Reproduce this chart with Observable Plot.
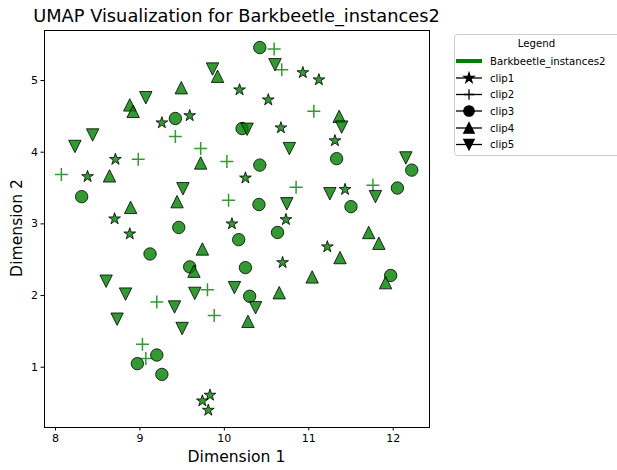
<!DOCTYPE html>
<html><head><meta charset="utf-8">
<script src="https://cdn.jsdelivr.net/npm/d3@7"></script>
<script src="https://cdn.jsdelivr.net/npm/@observablehq/plot@0.6"></script>
<style>
body{margin:0;background:#fff;font-family:"DejaVu Sans",sans-serif;}
#wrap{position:relative;width:617px;height:470px;}
</style></head><body><div id="wrap"></div>
<script>
const titleText = "UMAP Visualization for Barkbeetle_instances2";
const xLabel = "Dimension 1";
const yLabel = "Dimension 2";
const xTicks = [8, 9, 10, 11, 12];
const yTicks = [1, 2, 3, 4, 5];
const seriesName = "Barkbeetle_instances2";
const clipNames = ["clip1", "clip2", "clip3", "clip4", "clip5"];

const clip1X = [9.26, 8.71, 8.38, 8.70, 9.59, 10.18, 10.52, 10.67, 10.25, 10.09, 10.73, 10.93, 11.12, 11.31, 11.43, 8.88, 10.69, 9.83, 9.74, 9.81, 11.22];
const clip1Y = [4.41, 3.90, 3.66, 3.07, 4.51, 4.87, 4.73, 4.34, 3.64, 3.00, 3.06, 5.11, 5.01, 4.16, 3.48, 2.86, 2.46, 0.61, 0.53, 0.40, 2.68];

const clip2X = [8.07, 8.98, 9.42, 10.59, 10.68, 9.72, 10.03, 10.85, 10.05, 11.06, 11.76, 9.20, 9.03, 9.07, 9.80, 9.88];
const clip2Y = [3.69, 3.90, 4.22, 5.44, 5.15, 4.05, 3.87, 3.51, 3.33, 4.57, 3.54, 1.91, 1.32, 1.12, 2.08, 1.72];

const clip3X = [8.31, 9.42, 10.42, 10.21, 10.42, 10.41, 9.46, 10.63, 11.33, 12.22, 12.05, 11.50, 9.12, 9.20, 8.97, 9.26, 10.17, 9.59, 10.25, 10.30, 11.97];
const clip3Y = [3.38, 4.47, 5.46, 4.33, 3.82, 3.27, 2.95, 2.88, 3.91, 3.75, 3.50, 3.24, 2.58, 1.17, 1.05, 0.90, 2.78, 2.40, 2.39, 1.99, 2.28];

const clip4X = [8.88, 8.92, 8.64, 8.89, 9.49, 9.92, 9.72, 9.44, 11.36, 11.71, 9.74, 9.64, 10.65, 10.28, 11.83, 11.37, 11.04, 11.91];
const clip4Y = [4.66, 4.57, 3.67, 3.23, 4.90, 5.06, 3.85, 3.31, 4.50, 2.88, 2.65, 2.34, 2.04, 1.64, 2.73, 2.53, 2.26, 2.18];

const clip5X = [9.07, 8.44, 8.23, 9.86, 10.60, 10.27, 10.77, 9.51, 10.74, 11.39, 12.15, 11.25, 11.79, 8.60, 8.83, 8.73, 9.41, 9.65, 10.12, 10.37, 9.50];
const clip5Y = [4.76, 4.24, 4.08, 5.16, 5.22, 4.32, 4.05, 3.49, 3.28, 4.35, 3.92, 3.42, 3.38, 2.20, 2.02, 1.67, 1.84, 2.03, 2.11, 1.83, 1.54];

const rows = (xs, ys) => xs.map((x, i) => ({x, y: ys[i]}));

// matplotlib-like marker shapes
const rad = (size) => Math.sqrt(size / Math.PI);
const starSym = {draw(ctx, size) {
  const R = rad(size);
  for (let k = 0; k < 10; k++) {
    const r = k % 2 ? R * 0.381966 : R;
    const a = -Math.PI / 2 + k * Math.PI / 5;
    const px = r * Math.cos(a), py = r * Math.sin(a);
    k ? ctx.lineTo(px, py) : ctx.moveTo(px, py);
  }
  ctx.closePath();
}};
const plusSym = {draw(ctx, size) {
  const R = rad(size);
  ctx.moveTo(-R, 0); ctx.lineTo(R, 0);
  ctx.moveTo(0, -R); ctx.lineTo(0, R);
}};
const circleSym = {draw(ctx, size) {
  const R = rad(size);
  ctx.moveTo(R, 0); ctx.arc(0, 0, R, 0, 2 * Math.PI); ctx.closePath();
}};
const triUpSym = {draw(ctx, size) {
  const R = rad(size);
  ctx.moveTo(0, -R); ctx.lineTo(R, R); ctx.lineTo(-R, R); ctx.closePath();
}};
const triDownSym = {draw(ctx, size) {
  const R = rad(size);
  ctx.moveTo(0, R); ctx.lineTo(R, -R); ctx.lineTo(-R, -R); ctx.closePath();
}};
const symbols = [starSym, plusSym, circleSym, triUpSym, triDownSym];

const filled = {r: 6.2, fill: "green", fillOpacity: 0.8, stroke: "black", strokeOpacity: 0.8, strokeWidth: 1};

const chart = Plot.plot({
  width: 617, height: 470,
  marginLeft: 44, marginRight: 188, marginTop: 30, marginBottom: 43,
  x: {domain: [7.87, 12.43]},
  y: {domain: [0.159, 5.698]},
  style: {fontFamily: "DejaVu Sans", fontSize: "11px", color: "black", background: "white", overflow: "visible"},
  marks: [
    Plot.axisX({ticks: xTicks, tickFormat: d3.format("d"), tickSize: 3.5, tickPadding: 3, label: null, stroke: "black"}),
    Plot.axisY({ticks: yTicks, tickFormat: d3.format("d"), tickSize: 3.5, tickPadding: 3, label: null, stroke: "black"}),
    Plot.dot(rows(clip1X, clip1Y), {x: "x", y: "y", symbol: starSym, ...filled}),
    Plot.dot(rows(clip2X, clip2Y), {x: "x", y: "y", symbol: plusSym, r: 6.5, fill: "none", stroke: "green", strokeOpacity: 0.8, strokeWidth: 1.5}),
    Plot.dot(rows(clip3X, clip3Y), {x: "x", y: "y", symbol: circleSym, ...filled}),
    Plot.dot(rows(clip4X, clip4Y), {x: "x", y: "y", symbol: triUpSym, ...filled}),
    Plot.dot(rows(clip5X, clip5Y), {x: "x", y: "y", symbol: triDownSym, ...filled}),
    Plot.frame({stroke: "black", strokeWidth: 1})
  ]
});
document.getElementById("wrap").appendChild(chart);

const svg = d3.select(chart);
svg.append("text").attr("x", 236.5).attr("y", 22).attr("text-anchor", "middle")
  .attr("font-size", 17.8).attr("fill", "black").text(titleText);
svg.append("text").attr("x", 236.5).attr("y", 462).attr("text-anchor", "middle")
  .attr("font-size", 15.6).attr("fill", "black").text(xLabel);
svg.append("text").attr("transform", "translate(22,228) rotate(-90)").attr("text-anchor", "middle")
  .attr("font-size", 15.6).attr("fill", "black").text(yLabel);

// Legend
const lg = svg.append("g").attr("font-size", 10.2).attr("fill", "black").attr("text-anchor", "start");
lg.append("rect").attr("x", 454.5).attr("y", 34.5).attr("width", 175).attr("height", 121)
  .attr("rx", 3).attr("fill", "white").attr("stroke", "#cccccc").attr("stroke-width", 1);
lg.append("text").attr("x", 536.5).attr("y", 47).attr("text-anchor", "middle").text("Legend");
const rowY = [61, 78, 94.5, 111, 128, 144.5];
lg.append("line").attr("x1", 456).attr("x2", 482).attr("y1", rowY[0]).attr("y2", rowY[0])
  .attr("stroke", "green").attr("stroke-width", 4);
lg.append("text").attr("x", 490).attr("y", rowY[0] + 3.7).attr("text-anchor", "start").text(seriesName);
clipNames.forEach((name, i) => {
  const yy = rowY[i + 1];
  lg.append("line").attr("x1", 456).attr("x2", 482).attr("y1", yy).attr("y2", yy)
    .attr("stroke", "black").attr("stroke-width", 1.3);
  const p = d3.path();
  symbols[i].draw(p, 5.2 * 5.2 * Math.PI);
  lg.append("path").attr("d", p.toString()).attr("transform", `translate(469,${yy})`)
    .attr("fill", i === 1 ? "none" : "black").attr("stroke", "black").attr("stroke-width", 1.3);
  lg.append("text").attr("x", 490).attr("y", yy + 3.7).attr("text-anchor", "start").text(name);
});
</script></body></html>
